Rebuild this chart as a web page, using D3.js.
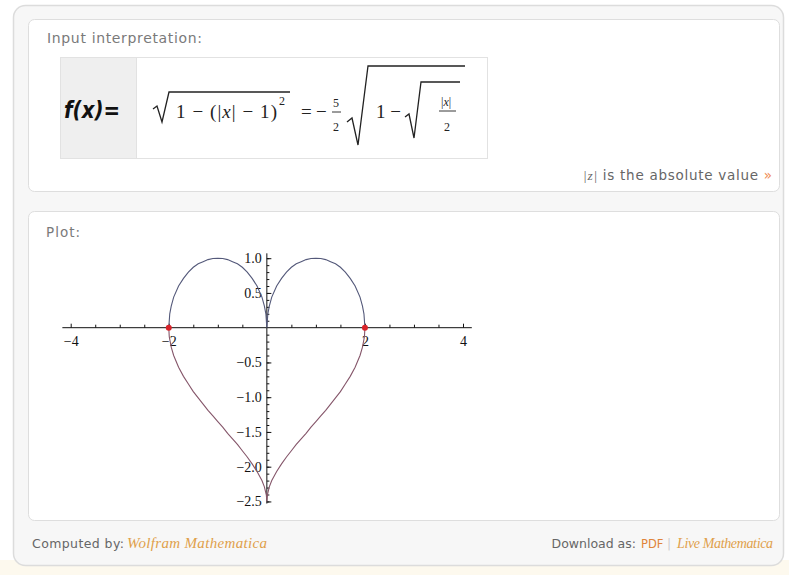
<!DOCTYPE html>
<html><head><meta charset="utf-8">
<script src="https://cdn.jsdelivr.net/npm/d3@7"></script>
<style>html,body{margin:0;padding:0;background:#fff;}svg{display:block;}</style>
</head><body>
<script>
// ---- data ----
const upperX = [-2,-1.98,-1.95,-1.9,-1.8,-1.7,-1.6,-1.5,-1.4,-1.3,-1.2,-1.1,-1,-0.9,-0.8,-0.7,-0.6,-0.5,-0.4,-0.3,-0.2,-0.1,-0.05,-0.02,0,0.02,0.05,0.1,0.2,0.3,0.4,0.5,0.6,0.7,0.8,0.9,1,1.1,1.2,1.3,1.4,1.5,1.6,1.7,1.8,1.9,1.95,1.98,2];
const upperY = [0,0.2,0.31,0.44,0.6,0.71,0.8,0.87,0.92,0.95,0.98,0.995,1,0.995,0.98,0.95,0.92,0.87,0.8,0.71,0.6,0.44,0.31,0.2,0,0.2,0.31,0.44,0.6,0.71,0.8,0.87,0.92,0.95,0.98,0.995,1,0.995,0.98,0.95,0.92,0.87,0.8,0.71,0.6,0.44,0.31,0.2,0];
const lowerX = [-2,-1.99,-1.95,-1.9,-1.8,-1.7,-1.6,-1.5,-1.4,-1.3,-1.2,-1.1,-1,-0.9,-0.8,-0.7,-0.6,-0.5,-0.4,-0.3,-0.2,-0.1,-0.05,-0.01,0,0.01,0.05,0.1,0.2,0.3,0.4,0.5,0.6,0.7,0.8,0.9,1,1.1,1.2,1.3,1.4,1.5,1.6,1.7,1.8,1.9,1.95,1.99,2];
const lowerY = [0,-0.13,-0.28,-0.4,-0.57,-0.7,-0.81,-0.92,-1.01,-1.1,-1.19,-1.27,-1.35,-1.43,-1.52,-1.6,-1.68,-1.77,-1.86,-1.96,-2.07,-2.2,-2.29,-2.41,-2.5,-2.41,-2.29,-2.2,-2.07,-1.96,-1.86,-1.77,-1.68,-1.6,-1.52,-1.43,-1.35,-1.27,-1.19,-1.1,-1.01,-0.92,-0.81,-0.7,-0.57,-0.4,-0.28,-0.13,0];
const pointsX = [-2, 2];
const pointsY = [0, 0];
const xTickValues = [-4,-3.5,-3,-2.5,-2,-1.5,-1,-0.5,0.5,1,1.5,2,2.5,3,3.5,4];
const xTickLabels = {"-4":"\u22124","-2":"\u22122","2":"2","4":"4"};
const yMajorTicks = [1.0,0.5,-0.5,-1.0,-1.5,-2.0,-2.5];
const yMajorLabels = ["1.0","0.5","\u22120.5","\u22121.0","\u22121.5","\u22122.0","\u22122.5"];
const yMinorTicks = [1.0,0.9,0.8,0.7,0.6,0.5,0.4,0.3,0.2,0.1,-0.1,-0.2,-0.3,-0.4,-0.5,-0.6,-0.7,-0.8,-0.9,-1.0,-1.1,-1.2,-1.3,-1.4,-1.5,-1.6,-1.7,-1.8,-1.9,-2.0,-2.1,-2.2,-2.3,-2.4,-2.5];

const W = 789, H = 575;
const svg = d3.select("body").append("svg").attr("width", W).attr("height", H);

// background
svg.append("rect").attr("width",W).attr("height",H).attr("fill","#ffffff");
svg.append("rect").attr("x",0).attr("y",560).attr("width",W).attr("height",15).attr("fill","#fdf9ee");
// outer container
svg.append("rect").attr("x",13.5).attr("y",5.5).attr("width",770).attr("height",560).attr("rx",12)
  .attr("fill","#f7f7f7").attr("stroke","#dcdcdc").attr("stroke-width",1.5);
// panels
svg.append("rect").attr("x",28.5).attr("y",19.5).attr("width",751).attr("height",172).attr("rx",6)
  .attr("fill","#ffffff").attr("stroke","#dedede");
svg.append("rect").attr("x",28.5).attr("y",211.5).attr("width",751).attr("height",309).attr("rx",6)
  .attr("fill","#ffffff").attr("stroke","#dedede");

const sans = "'DejaVu Sans', Verdana, sans-serif";
const serif = "'Liberation Serif', 'Times New Roman', serif";
svg.append("text").attr("x",47).attr("y",43).attr("font-family",sans).attr("font-size",14).attr("fill","#7a7a7a")
  .attr("textLength",155).attr("lengthAdjust","spacing").text("Input interpretation:");
svg.append("text").attr("x",46).attr("y",237).attr("font-family",sans).attr("font-size",13.5).attr("fill","#7a7a7a")
  .attr("textLength",34).attr("lengthAdjust","spacing").text("Plot:");

// formula box
svg.append("rect").attr("x",60.5).attr("y",57.5).attr("width",427).attr("height",101).attr("fill","#fff").attr("stroke","#e2e2e2");
svg.append("rect").attr("x",61).attr("y",58).attr("width",75).attr("height",100).attr("fill","#efefef");
svg.append("line").attr("x1",136.5).attr("x2",136.5).attr("y1",58).attr("y2",158).attr("stroke","#e2e2e2");
svg.append("text").attr("x",64).attr("y",118).attr("font-family",sans).attr("font-style","italic").attr("font-weight","bold")
  .attr("font-size",23).attr("fill","#111").attr("textLength",56).attr("lengthAdjust","spacingAndGlyphs").text("f(x)=");

const ink = "#222";
const f = svg.append("g").attr("fill","none").attr("stroke",ink).attr("stroke-width",1.3);
// first radical
f.append("path").attr("d","M153,109 L157,106 L162,122 L169,92 L290,92");
const t1 = svg.append("text").attr("x",176).attr("y",118).attr("font-family",serif).attr("font-size",19).attr("fill",ink)
  .attr("textLength",101).attr("lengthAdjust","spacing");
t1.append("tspan").text("1 \u2212 (|");
t1.append("tspan").attr("font-style","italic").text("x");
t1.append("tspan").text("| \u2212 1)");
svg.append("text").attr("x",279).attr("y",105).attr("font-family",serif).attr("font-size",12).attr("fill",ink).text("2");
svg.append("text").attr("x",301).attr("y",118).attr("font-family",serif).attr("font-size",19).attr("fill",ink).text("=");
svg.append("text").attr("x",316).attr("y",118).attr("font-family",serif).attr("font-size",19).attr("fill",ink).text("\u2212");
svg.append("text").attr("x",333).attr("y",107).attr("font-family",serif).attr("font-size",12).attr("fill",ink).text("5");
f.append("line").attr("x1",332).attr("x2",341).attr("y1",112).attr("y2",112).attr("stroke-width",0.9);
svg.append("text").attr("x",333).attr("y",131).attr("font-family",serif).attr("font-size",12).attr("fill",ink).text("2");
// big radical
f.append("path").attr("d","M347,122 L352,118 L358,145 L368,66 L465,66");
svg.append("text").attr("x",376).attr("y",118).attr("font-family",serif).attr("font-size",19).attr("fill",ink).text("1 \u2212");
// inner radical
f.append("path").attr("d","M405,117 L409,114 L414,138 L421,82 L460,82");
const t2 = svg.append("text").attr("x",441).attr("y",106).attr("font-family",serif).attr("font-size",12).attr("fill",ink);
t2.append("tspan").text("|"); t2.append("tspan").attr("font-style","italic").text("x"); t2.append("tspan").text("|");
f.append("line").attr("x1",439).attr("x2",456).attr("y1",111).attr("y2",111).attr("stroke-width",0.9);
svg.append("text").attr("x",444).attr("y",131).attr("font-family",serif).attr("font-size",12).attr("fill",ink).text("2");

// |z| is the absolute value
const abs = svg.append("text").attr("x",583).attr("y",180).attr("font-family",sans).attr("font-size",13.5).attr("fill","#666")
  .attr("textLength",189).attr("lengthAdjust","spacing");
abs.append("tspan").attr("font-family",serif).attr("font-style","italic").text("|z|");
abs.append("tspan").text(" is the absolute value ");
abs.append("tspan").attr("fill","#f08a50").text("\u00bb");

// ---- plot ----
const x = d3.scaleLinear().domain([-4,4]).range([70.7,463]);
const y = d3.scaleLinear().domain([0,1]).range([327.7,258.2]);
const x0 = x(0), y0 = y(0);

// axes lines
svg.append("line").attr("x1",x(-4.17)).attr("x2",x(4.18)).attr("y1",y0).attr("y2",y0).attr("stroke","#111").attr("stroke-width",1);
svg.append("line").attr("x1",x0).attr("x2",x0).attr("y1",y(1.07)).attr("y2",y(-2.53)).attr("stroke","#111").attr("stroke-width",1);

// x axis ticks & labels
const xAxis = d3.axisBottom(x).tickValues(xTickValues).tickSize(-4).tickPadding(8)
  .tickFormat(d => xTickLabels[String(d)] || "");
const gx = svg.append("g").attr("transform",`translate(0,${y0})`).call(xAxis);
gx.select(".domain").remove();
gx.selectAll(".tick line").attr("stroke","#111").attr("y2", d => (Math.abs(d)%2===0) ? -4 : -3);
gx.selectAll("text").attr("font-family",serif).attr("font-size",14).attr("fill","#111");

// y axis minor ticks
const gym = svg.append("g").attr("transform",`translate(${x0},0)`).call(d3.axisLeft(y).tickValues(yMinorTicks).tickSize(-2.5).tickFormat(""));
gym.select(".domain").remove();
gym.selectAll(".tick line").attr("stroke","#111");
// y axis major ticks
const gy = svg.append("g").attr("transform",`translate(${x0},0)`)
  .call(d3.axisLeft(y).tickValues(yMajorTicks).tickSize(-4.5).tickPadding(5).tickFormat((d,i) => yMajorLabels[i]));
gy.select(".domain").remove();
gy.selectAll(".tick line").attr("stroke","#111");
gy.selectAll("text").attr("font-family",serif).attr("font-size",14).attr("fill","#111");

// curves
const line = d3.line().x(d => x(d[0])).y(d => y(d[1])).curve(d3.curveLinear);
svg.append("path").datum(upperX.map((v,i)=>[v,upperY[i]])).attr("d",line)
  .attr("fill","none").attr("stroke","#54597a").attr("stroke-width",1.1);
svg.append("path").datum(lowerX.map((v,i)=>[v,lowerY[i]])).attr("d",line)
  .attr("fill","none").attr("stroke","#85566a").attr("stroke-width",1.1);

// red points
svg.selectAll("circle.pt").data(pointsX).enter().append("circle")
  .attr("cx", d => x(d)).attr("cy",(d,i)=>y(pointsY[i])).attr("r",3).attr("fill","#d8232a");

// footer
svg.append("text").attr("x",32).attr("y",548).attr("font-family",sans).attr("font-size",12.5).attr("fill","#666")
  .attr("textLength",92).attr("lengthAdjust","spacing").text("Computed by:");
svg.append("text").attr("x",127).attr("y",548).attr("font-family",serif).attr("font-style","italic").attr("font-size",15).attr("fill","#e0a04a")
  .attr("textLength",140).attr("lengthAdjust","spacing").text("Wolfram Mathematica");
svg.append("text").attr("x",636).attr("y",548).attr("text-anchor","end").attr("font-family",sans).attr("font-size",12.5).attr("fill","#666")
  .text("Download as:");
svg.append("text").attr("x",641).attr("y",548).attr("font-family",sans).attr("font-size",11.5).attr("fill","#e0843a").text("PDF");
svg.append("text").attr("x",667).attr("y",548).attr("font-family",sans).attr("font-size",12).attr("fill","#ccc").text("|");
svg.append("text").attr("x",677).attr("y",548).attr("font-family",serif).attr("font-style","italic").attr("font-size",14).attr("fill","#e0a04a")
  .attr("textLength",96).attr("lengthAdjust","spacing").text("Live Mathematica");
</script>
</body></html>
